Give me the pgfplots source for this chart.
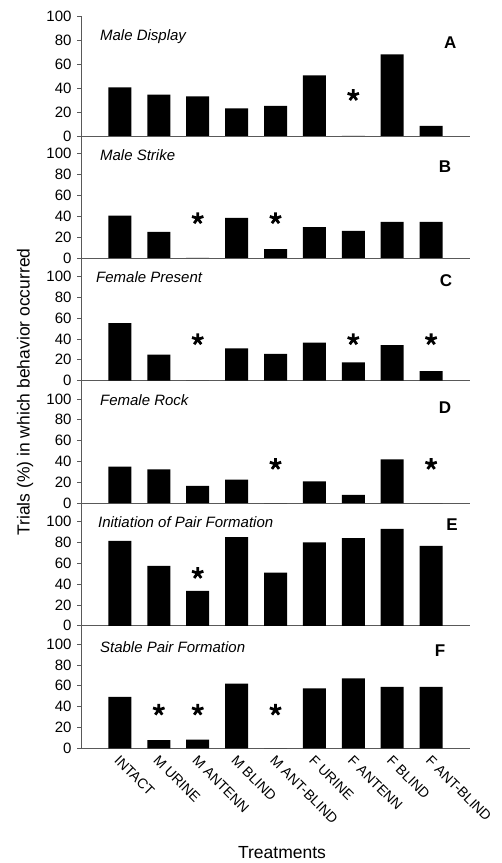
\documentclass[border=0pt]{standalone}
\usepackage{fontspec}
\setmainfont{Liberation Sans}
\usepackage{pgfplots}
\pgfplotsset{compat=1.18}
\pgfplotsset{
  panel/.style={
    scale only axis, width=389pt,
    xmin=-1, xmax=9, ymin=0,
    axis lines=left,
    axis line style={-, black!65, line width=0.8pt},
    xtick={0,...,8}, xtick style={draw=none},
    xticklabels={},
    ytick={0,20,40,60,80,100},
    ytick style={black!65, line width=0.6pt},
    tick align=outside, major tick length=4pt,
    /pgf/number format/assume math mode=true,
    yticklabel style={font=\fontsize{15}{17}\selectfont, xshift=-2pt},
    clip=false,
    anchor=south west,
  },
  bars/.style={ybar, bar width=23pt, fill=black, draw=none},
  stars/.style={only marks, mark=star, mark size=6pt, mark options={line width=2.8pt, black, line cap=butt}},
}
\tikzset{
  ttl/.style={anchor=west, font=\fontsize{15}{17}\selectfont\itshape},
  lett/.style={font=\fontsize{17}{19}\selectfont\bfseries},
}
\begin{document}
\begin{tikzpicture}
\useasboundingbox (0,0) rectangle (502pt,863pt);
% A
\begin{axis}[panel, at={(81pt,727pt)}, height=120pt, ymax=100]
\addplot[bars] coordinates {(0,40.5) (1,34.5) (2,33) (3,23) (4,25) (5,50.5) (6,0) (7,68) (8,8.5)};
\addplot[stars] coordinates {(6,34)};
\node[ttl] at (axis description cs:0.04,0.825) {Male Display};
\node[lett] at (axis description cs:0.949,0.775) {A};
\end{axis}
% B
\begin{axis}[panel, at={(81pt,605pt)}, height=122.6pt, ymax=117.5]
\addplot[bars] coordinates {(0,40.5) (1,25) (2,0) (3,38.5) (4,8.5) (5,29.5) (6,26) (7,34.5) (8,34.5)};
\addplot[stars] coordinates {(2,38) (4,38)};
\node[ttl] at (axis description cs:0.04,0.84) {Male Strike};
\node[lett] at (axis description cs:0.936,0.742) {B};
\end{axis}
% C
\begin{axis}[panel, at={(81pt,482.4pt)}, height=122.6pt, ymax=117.5]
\addplot[bars] coordinates {(0,55) (1,25) (2,0) (3,31) (4,25.5) (5,36.5) (6,17.5) (7,34) (8,9)};
\addplot[stars] coordinates {(2,39.5) (6,39.5) (8,39.5)};
\node[ttl] at (axis description cs:0.03,0.845) {Female Present};
\node[lett] at (axis description cs:0.938,0.812) {C};
\end{axis}
% D
\begin{axis}[panel, at={(81pt,359.8pt)}, height=122.6pt, ymax=117.5]
\addplot[bars] coordinates {(0,35) (1,32.5) (2,16.5) (3,22.5) (4,0) (5,21) (6,8) (7,42) (8,0)};
\addplot[stars] coordinates {(4,37.5) (8,37.5)};
\node[ttl] at (axis description cs:0.04,0.842) {Female Rock};
\node[lett] at (axis description cs:0.936,0.777) {D};
\end{axis}
% E
\begin{axis}[panel, at={(81pt,237.2pt)}, height=122.6pt, ymax=117.5]
\addplot[bars] coordinates {(0,81.5) (1,57.5) (2,33.5) (3,85) (4,51) (5,80) (6,84) (7,93) (8,76.5)};
\addplot[stars] coordinates {(2,50.5)};
\node[ttl] at (axis description cs:0.035,0.847) {Initiation of Pair Formation};
\node[lett] at (axis description cs:0.954,0.822) {E};
\end{axis}
% F
\begin{axis}[panel, at={(81pt,114.6pt)}, height=122.6pt, ymax=117.5,
  xticklabels={INTACT, M URINE, M ANTENN, M BLIND, M ANT-BLIND, F URINE, F ANTENN, F BLIND, F ANT-BLIND},
  xticklabel style={rotate=-45, anchor=north west, font=\fontsize{14}{16}\selectfont, inner sep=1pt, xshift=1pt}]
\addplot[bars] coordinates {(0,49.5) (1,8) (2,8.5) (3,62) (4,0) (5,57.5) (6,67) (7,59) (8,59)};
\addplot[stars] coordinates {(1,37) (2,37) (4,37)};
\node[ttl] at (axis description cs:0.04,0.827) {Stable Pair Formation};
\node[lett] at (axis description cs:0.923,0.794) {F};
\end{axis}
\node[rotate=90, font=\fontsize{17.5}{20}\selectfont] at (25pt,471pt) {Trials (\%) in which behavior occurred};
\node[font=\fontsize{17.5}{20}\selectfont] at (282pt,10pt) {Treatments};
\end{tikzpicture}
\end{document}
